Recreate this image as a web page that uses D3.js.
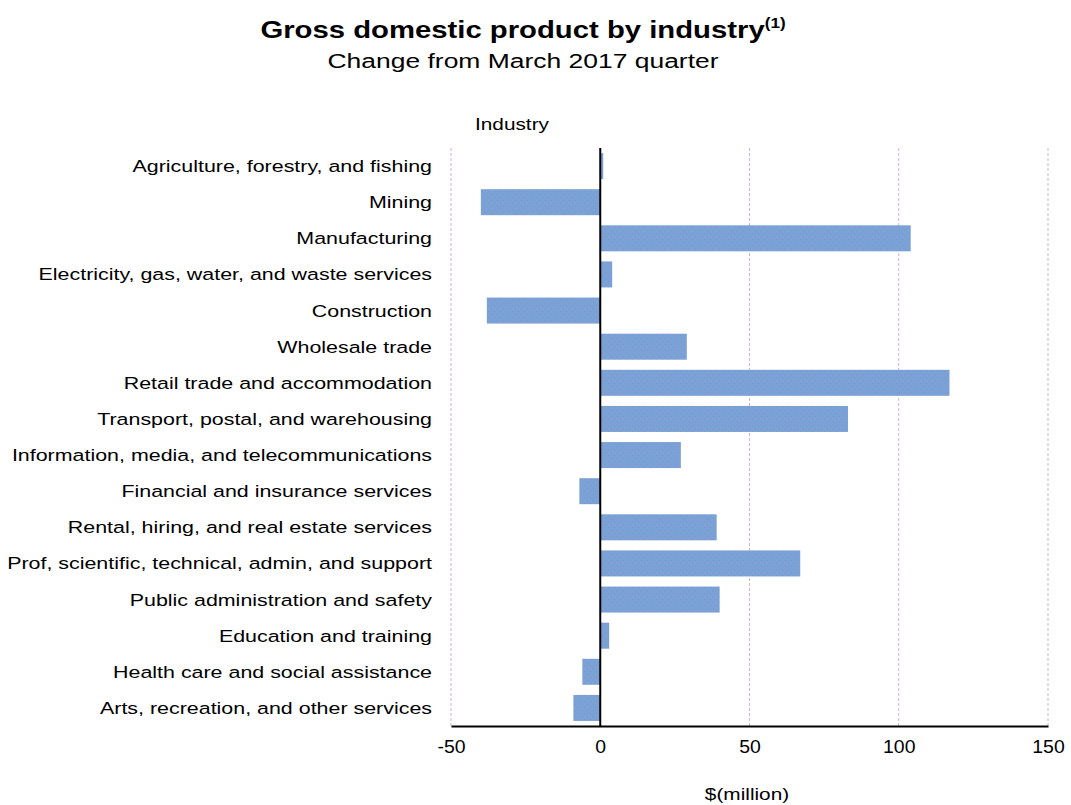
<!DOCTYPE html>
<html>
<head>
<meta charset="utf-8">
<script src="https://cdn.jsdelivr.net/npm/d3@7"></script>
<style>
  body { margin: 0; background: #fff; }
  svg text { font-family: "Liberation Sans", Arial, sans-serif; fill: #000; }
</style>
</head>
<body>
<div id="chart"></div>
<script>
// --- data ---
const industries = [
  "Agriculture, forestry, and fishing",
  "Mining",
  "Manufacturing",
  "Electricity, gas, water, and waste services",
  "Construction",
  "Wholesale trade",
  "Retail trade and accommodation",
  "Transport, postal, and warehousing",
  "Information, media, and telecommunications",
  "Financial and insurance services",
  "Rental, hiring, and real estate services",
  "Prof, scientific, technical, admin, and support",
  "Public administration and safety",
  "Education and training",
  "Health care and social assistance",
  "Arts, recreation, and other services"
];
const changes = [1, -40, 104, 4, -38, 29, 117, 83, 27, -7, 39, 67, 40, 3, -6, -9];
const xTicks = [-50, 0, 50, 100, 150];

const W = 1071, H = 805;
const margin = { top: 148, right: 23, bottom: 79, left: 451 };
const innerW = W - margin.left - margin.right;
const innerH = H - margin.top - margin.bottom;

const svg = d3.select("#chart").append("svg")
  .attr("width", W).attr("height", H);

// testo "largo" come nel riferimento (stretch orizzontale)
function wideText(parent, x, y, sx, anchor, size, str) {
  return parent.append("text")
    .attr("transform", `translate(${x},${y}) scale(${sx},1)`)
    .attr("text-anchor", anchor)
    .style("font-size", size + "px")
    .text(str);
}

// pattern puntinato delle barre
const defs = svg.append("defs");
const pat = defs.append("pattern")
  .attr("id", "dots")
  .attr("patternUnits", "userSpaceOnUse")
  .attr("width", 6).attr("height", 6);
pat.append("rect").attr("width", 6).attr("height", 6).attr("fill", "#7aa2d4");
pat.append("rect").attr("x", 1).attr("y", 1).attr("width", 1).attr("height", 1).attr("fill", "#8f8bdc");
pat.append("rect").attr("x", 4).attr("y", 4).attr("width", 1).attr("height", 1).attr("fill", "#8f8bdc");

// titoli
const title = wideText(svg, 523, 38, 1.22, "middle", 24, "Gross domestic product by industry")
  .style("font-weight", "700");
title.append("tspan")
  .attr("dy", -10)
  .style("font-size", "14px")
  .text("(1)");

wideText(svg, 523, 68, 1.26, "middle", 21, "Change from March 2017 quarter");
wideText(svg, 475, 130, 1.3, "start", 16, "Industry");

const g = svg.append("g").attr("transform", `translate(${margin.left},${margin.top})`);

const x = d3.scaleLinear().domain([-50, 150]).range([0, innerW]);
const y = d3.scaleBand().domain(industries).range([0, innerH]).paddingInner(0.28).paddingOuter(0.14);

// griglia verticale
g.selectAll(".grid").data(xTicks.filter(d => d !== 0)).enter()
  .append("line")
  .attr("x1", d => x(d)).attr("x2", d => x(d))
  .attr("y1", 0).attr("y2", innerH)
  .attr("stroke", "#cdb2cf").attr("stroke-width", 1)
  .attr("stroke-dasharray", "3,2");

// barre
g.selectAll(".bar").data(changes).enter()
  .append("rect")
  .attr("x", d => x(Math.min(0, d)))
  .attr("y", (d, i) => y(industries[i]))
  .attr("width", d => Math.abs(x(d) - x(0)))
  .attr("height", y.bandwidth())
  .attr("fill", "url(#dots)");

// asse zero
g.append("line")
  .attr("x1", x(0)).attr("x2", x(0))
  .attr("y1", 0).attr("y2", innerH)
  .attr("stroke", "#000").attr("stroke-width", 2);

// asse x
const xAxis = g.append("g")
  .attr("transform", `translate(0,${innerH})`)
  .call(d3.axisBottom(x).tickValues(xTicks).tickSize(0).tickPadding(14).tickFormat(d => String(d)));
xAxis.select(".domain").attr("stroke", "#000").attr("stroke-width", 2);
xAxis.selectAll("text")
  .style("font-size", "18px")
  .attr("transform", "scale(1.08,1)");

// etichette categorie
industries.forEach(d => {
  wideText(g, -19, y(d) + y.bandwidth() / 2, 1.26, "end", 17, d).attr("dy", "0.35em");
});

wideText(svg, 747, 800, 1.3, "middle", 16, "$(million)");
</script>
</body>
</html>
